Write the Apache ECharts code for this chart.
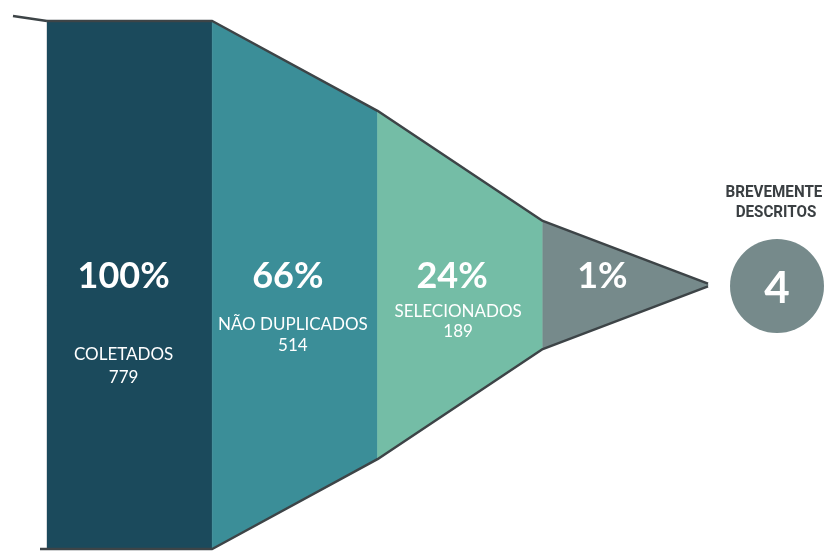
<!DOCTYPE html>
<html>
<head>
<meta charset="utf-8">
<script src="https://cdn.jsdelivr.net/npm/echarts@6/dist/echarts.min.js"></script>
<style>html,body{margin:0;padding:0;background:#fff}#c{width:830px;height:551px}</style>
</head>
<body>
<div id="c"></div>
<script>
const stageNames = ['COLETADOS', 'NÃO DUPLICADOS', 'SELECIONADOS', ''];
const counts = [779, 514, 189, 4];
const percentLabels = ['100%', '66%', '24%', '1%'];
const countLabels = ['779', '514', '189', ''];
const finalTitle = ['BREVEMENTE', 'DESCRITOS'];
const finalCount = '4';
const colors = ['#1b4a5c', '#3b8e98', '#74bda6', '#768a8b'];

// boundary values at x = 0..4
const boundaries = [counts[0]].concat(counts);
const segData = counts.map((c, i) => [i, boundaries[i], boundaries[i + 1]]);

const chart = echarts.init(document.getElementById('c'));
const big = 'bold 36px Lato, "Open Sans", sans-serif';
const small = '17px Lato, "Open Sans", sans-serif';
const nameOffsets = [[-6, 70, 93], [-2, 40, 61], [-2, 27, 47], [0, 0, 0]];
const pctOffsets = [-6, -7, -8, -23];

chart.setOption({
  animation: false,
  grid: { left: 47, top: 21, width: 661, height: 528 },
  xAxis: { type: 'value', min: 0, max: 4, show: false },
  yAxis: { type: 'value', min: -counts[0] / 2, max: counts[0] / 2, show: false },
  series: [
    {
      type: 'custom',
      data: segData,
      renderItem: function (params, api) {
        const i = api.value(0), l = api.value(1), r = api.value(2);
        const p1 = api.coord([i, l / 2]), p2 = api.coord([i + 1, r / 2]);
        const p3 = api.coord([i + 1, -r / 2]), p4 = api.coord([i, -l / 2]);
        const mid = api.coord([i + 0.5, 0]);
        const idx = params.dataIndex;
        const off = nameOffsets[idx];
        const children = [
          { type: 'polygon', shape: { points: [p1, p2, p3, p4] }, style: { fill: colors[idx], stroke: colors[idx], lineWidth: 0.5 } },
          { type: 'text', style: { text: percentLabels[idx], x: mid[0] + pctOffsets[idx], y: mid[1] - 9, fill: '#fff', font: big, align: 'center', verticalAlign: 'middle' } }
        ];
        if (stageNames[idx]) {
          children.push({ type: 'text', style: { text: stageNames[idx], x: mid[0] + off[0], y: mid[1] + off[1], fill: '#fff', font: small, align: 'center', verticalAlign: 'middle' } });
          children.push({ type: 'text', style: { text: countLabels[idx], x: mid[0] + off[0], y: mid[1] + off[2], fill: '#fff', font: small, align: 'center', verticalAlign: 'middle' } });
        }
        return { type: 'group', children: children };
      }
    },
    {
      type: 'custom',
      data: [[0]],
      renderItem: function (params, api) {
        const top = boundaries.map((b, k) => api.coord([k, b / 2]));
        const bot = boundaries.map((b, k) => api.coord([k, -b / 2]));
        const t0 = top[0], b0 = bot[0];
        const apex = api.coord([4, 0]);
        const cx = apex[0] + 69, cy = apex[1] + 1;
        const titleFont = 'bold 16px "Liberation Sans Narrow", Roboto, sans-serif';
        return {
          type: 'group',
          children: [
            { type: 'line', shape: { x1: t0[0] - 0.5, y1: t0[1] + 1, x2: b0[0] - 0.5, y2: b0[1] }, style: { stroke: '#d8dbdd', lineWidth: 1 } },
            { type: 'bezierCurve', shape: { x1: t0[0] - 34, y1: t0[1] - 5, cpx1: t0[0] - 20, cpy1: t0[1] - 3, x2: t0[0], y2: t0[1] }, style: { stroke: '#3d4447', lineWidth: 2.5, fill: null } },
            { type: 'polyline', shape: { points: top }, style: { stroke: '#3d4447', lineWidth: 2.5, fill: null, lineJoin: 'round' } },
            { type: 'polyline', shape: { points: [[b0[0] - 7, b0[1]]].concat(bot) }, style: { stroke: '#3d4447', lineWidth: 2.5, fill: null, lineJoin: 'round' } },
            { type: 'circle', shape: { cx: cx, cy: cy, r: 47 }, style: { fill: '#768a8b' } },
            { type: 'text', style: { text: finalCount, x: cx, y: cy + 3, fill: '#fff', font: 'bold 44px Lato, "Open Sans", sans-serif', align: 'center', verticalAlign: 'middle' } },
            { type: 'text', x: cx - 3, y: cy - 93, scaleX: 0.95, style: { text: finalTitle[0], x: 0, y: 0, fill: '#3a3f42', font: titleFont, align: 'center', verticalAlign: 'middle' } },
            { type: 'text', x: cx - 1, y: cy - 73, scaleX: 0.95, style: { text: finalTitle[1], x: 0, y: 0, fill: '#3a3f42', font: titleFont, align: 'center', verticalAlign: 'middle' } }
          ]
        };
      }
    }
  ]
});
</script>
</body>
</html>
